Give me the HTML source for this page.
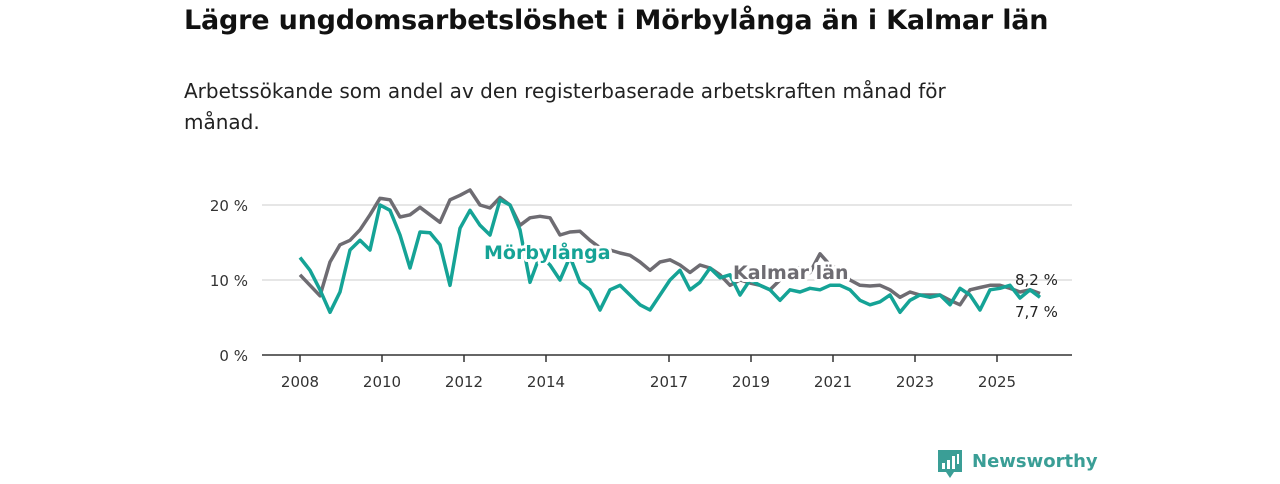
<!DOCTYPE html>
<html><head><meta charset="utf-8"><style>
body{margin:0;width:1280px;height:480px;background:#fff;font-family:"DejaVu Sans","Liberation Sans",sans-serif;overflow:hidden;position:relative}
h1{position:absolute;left:184px;top:5px;margin:0;font-size:27px;font-weight:bold;color:#111;letter-spacing:-0.2px;white-space:nowrap}
.sub{position:absolute;left:184px;top:76px;width:840px;font-size:20px;line-height:31px;color:#222}
</style></head><body>
<h1>Lägre ungdomsarbetslöshet i Mörbylånga än i Kalmar län</h1>
<div class="sub">Arbetssökande som andel av den registerbaserade arbetskraften månad för månad.</div>
<svg id="chart" width="1280" height="480" style="position:absolute;left:0;top:0"></svg>
<div style="position:absolute;left:938px;top:450px;">
<svg width="26" height="30"><path d="M0 0H24V22H16L12 28L8 22H0Z" fill="#3a9e96"/><rect x="4" y="13" width="3" height="6" fill="#fff"/><rect x="9" y="10" width="3" height="9" fill="#fff"/><rect x="14" y="6" width="3" height="13" fill="#fff"/><rect x="19" y="4" width="2" height="10" fill="#fff"/></svg>
<span style="position:absolute;left:34px;top:1px;font-size:18px;font-weight:bold;color:#3a9e96;white-space:nowrap">Newsworthy</span></div>
<script>
const startYear = 2008;
const stepYears = 10 / 41;
const kalmar = [10.7,9.3,7.9,12.4,14.7,15.3,16.7,18.7,20.9,20.7,18.4,18.7,19.7,18.7,17.7,20.7,21.3,22,20,19.6,21,20,17.3,18.3,18.5,18.3,16,16.4,16.5,15.3,14.3,14,13.6,13.3,12.4,11.3,12.4,12.7,12,11,12,11.6,10.7,9.3,10,9.6,9.3,8.7,10,11.3,11.6,11,13.5,12,11.3,10,9.3,9.2,9.3,8.7,7.7,8.4,8,8,8,7.3,6.7,8.7,9,9.3,9.3,8.9,8.4,8.7,8.2];
const morby = [13,11.3,8.7,5.7,8.4,14,15.3,14,20,19.3,16,11.6,16.4,16.3,14.7,9.3,16.9,19.3,17.3,16,20.7,20,16.7,9.7,13.3,12,10,13.1,9.7,8.7,6,8.7,9.3,8,6.7,6,8,10,11.3,8.7,9.7,11.6,10.3,10.7,8,10,9.3,8.7,7.3,8.7,8.4,8.9,8.7,9.3,9.3,8.7,7.3,6.7,7.1,8,5.7,7.3,8,7.7,8,6.7,8.9,8,6,8.7,8.9,9.3,7.6,8.7,7.7];
const xTicks = [2008,2010,2012,2014,2017,2019,2021,2023,2025];
const yTicks = [0,10,20];
const X = y => 300 + (y - 2008) * 41;
const Y = v => 355 - v * 7.5;
const NS = "http://www.w3.org/2000/svg";
const svg = document.getElementById('chart');
function mk(t, a){const e=document.createElementNS(NS,t);for(const k in a)e.setAttribute(k,a[k]);svg.appendChild(e);return e;}
yTicks.forEach(v=>{
  if(v>0){const g=mk('line',{x1:262,x2:1072,y1:Y(v),y2:Y(v),stroke:'#ddd','stroke-width':1.5});
  
  }
  const t=mk('text',{x:248,y:Y(v)+6,'text-anchor':'end','font-size':15,fill:'#333'});t.textContent=v+' %';
  
  
});
const ax=mk('line',{x1:262,x2:1072,y1:355,y2:355,stroke:'#333','stroke-width':1.5});


xTicks.forEach(yr=>{
  const l=mk('line',{x1:X(yr),x2:X(yr),y1:355,y2:362,stroke:'#333','stroke-width':1.5});
  
  
  const t=mk('text',{x:X(yr),y:387,'text-anchor':'middle','font-size':15,fill:'#333'});t.textContent=yr;
  
  
});
function pts(arr){return arr.map((v,i)=>X(startYear+i*stepYears).toFixed(1)+','+Y(v).toFixed(1)).join(' ');}
const l1=mk('polyline',{points:pts(kalmar),fill:'none',stroke:'#6e6c72','stroke-width':3.5,'stroke-linejoin':'round'});


const l2=mk('polyline',{points:pts(morby),fill:'none',stroke:'#15a396','stroke-width':3.5,'stroke-linejoin':'round'});


function lab(txt,x,y,col,name){
  const h=mk('text',{x:x,y:y,'font-size':19,'font-weight':'bold',fill:'#fff',stroke:'#fff','stroke-width':6,'stroke-linejoin':'round'});h.textContent=txt;
  
  
  const t=mk('text',{x:x,y:y,'font-size':19,'font-weight':'bold',fill:col});t.textContent=txt;
  
  
}
lab('Mörbylånga',484,259,'#15a396','morbylanga-label');
lab('Kalmar län',733,279,'#6e6c72','kalmar-label');
const e1=mk('text',{x:1015,y:285,'font-size':15,fill:'#222'});e1.textContent=String(kalmar[kalmar.length-1]).replace('.',',')+' %';


const e2=mk('text',{x:1015,y:317,'font-size':15,fill:'#222'});e2.textContent=String(morby[morby.length-1]).replace('.',',')+' %';


</script>
</body></html>
